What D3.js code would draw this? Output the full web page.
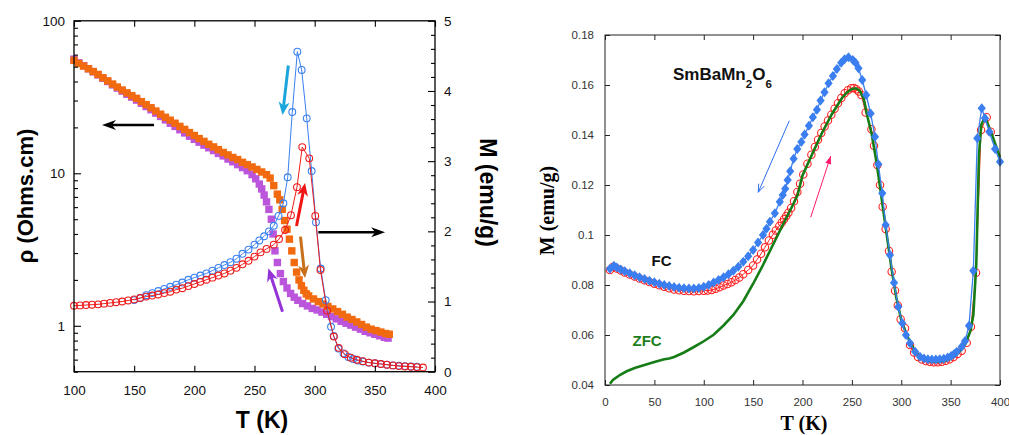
<!DOCTYPE html>
<html><head><meta charset="utf-8">
<script src="https://cdn.jsdelivr.net/npm/d3@7"></script>
<style>body{margin:0;background:#fff}svg{display:block}</style>
</head><body>
<svg id="c" width="1009" height="435"></svg>
<script>
// ---------------- LEFT PANEL DATA ----------------
const leftXTicks = [100,150,200,250,300,350,400];
const rhoMajorTicks = [1,10,100];
const mLeftMajorTicks = [0,1,2,3,4,5];

const orangeT = [100,104,108,112,116,120,124,128,132,136,140,144,148,152,156,160,164,168,172,176,180,184,188,192,196,200,204,208,212,216,220,224,228,232,236,240,244,248,252,256,260,
  263,266,269,271,273,275,277,279,281,283,285,287,289,291,293,
  295,299,303,307,311,315,319,323,327,331,335,339,343,347,351,355,359,362];
const orangeRho = [55,52.5,50.5,48.5,46.5,44.5,42.3,40.4,38.5,36.8,35.2,33.7,32.3,31.0,29.5,28.2,26.9,25.6,24.4,23.3,22.3,21.3,20.3,19.4,18.5,17.7,16.9,16.2,15.5,14.9,14.3,13.7,13.2,12.7,12.3,11.8,11.4,11.0,10.6,10.2,9.8,
  9.3,8.3,7.3,6.7,5.8,4.9,4.3,3.7,3.1,2.6,2.25,2.0,1.83,1.71,1.62,
  1.57,1.50,1.44,1.39,1.34,1.29,1.24,1.19,1.14,1.10,1.06,1.02,0.98,0.95,0.93,0.91,0.89,0.88];

const purpleT = [100,104,108,112,116,120,124,128,132,136,140,144,148,152,156,160,164,168,172,176,180,184,188,192,196,200,204,208,212,216,220,224,228,232,236,240,244,
  248,251,254,256,258,260,262,264,265.5,267,269,271.5,274,277,280,283,286,290,294,298,302,306,310,314,318,322,326,330,334,338,342,346,350,354,358,361];
const purpleRho = [56,53,50.8,48.5,46.3,44.2,42,40,38,36.2,34.6,33,31.6,30.2,28.8,27.4,26.1,24.8,23.6,22.4,21.3,20.3,19.3,18.4,17.5,16.7,16.0,15.3,14.7,14.1,13.5,13.0,12.4,11.9,11.4,10.9,10.4,
  9.8,9.2,8.5,7.9,7.2,6.5,5.8,5.0,4.0,3.1,2.6,2.2,1.95,1.77,1.63,1.54,1.47,1.40,1.35,1.30,1.27,1.23,1.19,1.15,1.11,1.07,1.04,1.01,0.98,0.95,0.92,0.90,0.88,0.86,0.84,0.83];

const blueLT = [150,155,160,165,170,175,180,185,190,195,200,205,210,215,220,225,230,235,240,245,250,
  254,258,262,266,270,274,277.6,281.4,285.6,289.2,293.4,297.5,301.1,305,309.2,313.6,315.8,319.7,324,328,332,336,340,345,350,355,360,365,370,375,380,385];
const blueLM = [1.02,1.05,1.09,1.12,1.15,1.18,1.21,1.24,1.27,1.31,1.34,1.37,1.40,1.44,1.48,1.52,1.56,1.61,1.68,1.74,1.81,
  1.87,1.93,2.00,2.08,2.22,2.40,2.77,3.70,4.56,4.30,3.61,2.86,2.13,1.47,1.02,0.64,0.51,0.33,0.26,0.21,0.18,0.16,0.145,0.13,0.12,0.11,0.10,0.09,0.085,0.08,0.075,0.07];

const redLT = [100,105,110,115,120,125,130,135,140,145,150,155,160,165,170,175,180,185,190,195,200,205,210,215,220,225,230,235,240,245,250,255,260,
  266,270.4,275.4,280.3,285.3,289.7,295.5,300.5,304.8,310.3,316,320,325,330,335,340,345,350,355,360,365,370,375,380,385,390];
const redLM = [0.94,0.945,0.95,0.955,0.96,0.97,0.98,0.99,1.0,1.015,1.03,1.05,1.07,1.085,1.10,1.12,1.14,1.17,1.19,1.22,1.25,1.28,1.31,1.34,1.37,1.40,1.44,1.48,1.53,1.58,1.64,1.70,1.75,
  1.81,1.89,2.02,2.23,2.63,3.20,3.04,2.22,1.45,0.87,0.50,0.34,0.25,0.20,0.17,0.15,0.13,0.12,0.11,0.10,0.09,0.08,0.075,0.07,0.065,0.06];

// arrows (data units: T, M)
const leftArrows = [
  {from:[166.5,3.515], to:[123.3,3.515], color:"#000000"},
  {from:[303.0,1.986], to:[358.5,1.986], color:"#000000"},
  {from:[278.1,4.363], to:[273.3,3.659], color:"#1aa6dc"},
  {from:[284.9,2.076], to:[292.0,2.689], color:"#f01414"},
  {from:[288.2,1.924], to:[292.0,1.335], color:"#c8701c"},
  {from:[273.3,0.855], to:[261.5,1.473], color:"#9433d6"}
];

// ---------------- RIGHT PANEL DATA ----------------
const rightXTicks = [0,50,100,150,200,250,300,350,400];
const rightYTicks = [0.04,0.06,0.08,0.1,0.12,0.14,0.16,0.18];

const fcT = [5,9,12,16,20,25,30,35,40,45,50,55,60,65,70,75,80,85,90,95,100,105,110,115,120,125,130,135,140,145,150,155,160,163.5,167,172,177,180,182.5,185,187.5,191,194.7,198.8,202.1,206.5,210.5,214.6,218.3,222.3,226.4,230.8,234.8,239.2,242.6,246.6,251,253.7,256.7,260.5,264.5,269,273.4,276.8,280.8,284.2,288.6,292.7,297,301.1,304.8,308.9,314,319,323,327,331,335,339,343,347,350.5,353.5,356.2,361.2,364.6,368.6,373,377,381.5,384.8,389.2,395,400];
const fcM = [0.0865,0.0877,0.0870,0.0862,0.0855,0.0847,0.0839,0.0831,0.0824,0.0817,0.0811,0.0805,0.0800,0.0796,0.0792,0.0789,0.0787,0.0786,0.0786,0.0788,0.0793,0.0800,0.0810,0.0820,0.0831,0.0843,0.0857,0.0873,0.0893,0.0915,0.0940,0.0970,0.1000,0.1025,0.1053,0.1087,0.1133,0.1160,0.1185,0.1220,0.1255,0.1305,0.1344,0.1372,0.1402,0.1437,0.1471,0.1501,0.1538,0.1571,0.1607,0.1636,0.1664,0.1689,0.1703,0.1711,0.1700,0.1689,0.1667,0.1620,0.1560,0.1486,0.1393,0.1283,0.1167,0.1040,0.0920,0.0809,0.0713,0.0647,0.0600,0.0567,0.0533,0.0513,0.0506,0.0503,0.0502,0.0502,0.0503,0.0505,0.0510,0.0516,0.0524,0.0533,0.0553,0.0576,0.0637,0.0857,0.1387,0.1507,0.1467,0.1413,0.1344,0.1293];

const fcwT = [5,8,12,16,20,25,30,35,40,45,50,55,60,65,70,75,80,85,90,95,100,104,108,112,116,120,124,128,132,136,140,145,150,154,158,162,166,170,173,176.5,179,181.3,183.5,185.7,188.5,191.4,194.8,197.5,200.8,205,209,212.5,215.7,219,222.4,225.8,229.2,232.5,235.9,239.3,242.7,246,249.4,252,254.5,257,259.6,263.9,269.8,272.4,275.8,278.5,281.2,284.2,287.6,290.3,293.7,296.5,299.4,303.8,308.9,313,317,321,325,329,333,337,341,345,349,353,357,361.2,366.3,370.6,375.7,380.8,386.5,390.6];
const fcwM = [0.0860,0.0872,0.0866,0.0858,0.0850,0.0842,0.0834,0.0826,0.0819,0.0812,0.0805,0.0799,0.0793,0.0787,0.0782,0.0779,0.0777,0.0776,0.0775,0.0776,0.0777,0.0778,0.0780,0.0785,0.0791,0.0798,0.0804,0.0811,0.0820,0.0830,0.0843,0.0860,0.0878,0.0902,0.0925,0.0951,0.0978,0.1001,0.1018,0.1036,0.1050,0.1063,0.1076,0.1089,0.1108,0.1135,0.1172,0.1205,0.1242,0.1285,0.1321,0.1352,0.1381,0.1408,0.1434,0.1458,0.1481,0.1505,0.1527,0.1548,0.1567,0.1579,0.1587,0.1588,0.1583,0.1574,0.1560,0.1490,0.1423,0.1357,0.1280,0.1200,0.1113,0.1024,0.0936,0.0853,0.0777,0.0718,0.0663,0.0627,0.0560,0.0530,0.0512,0.0502,0.0496,0.0493,0.0491,0.0491,0.0493,0.0497,0.0503,0.0512,0.0524,0.0537,0.0569,0.0633,0.0849,0.1420,0.1471,0.1413];

const zfcT = [5,8,15,22,30,40,50,60,65,70,80,90,100,110,120,130,140,150,160,170,180,186,190,195,200,210,220,230,240,245,250,254,258,262,266,270,275,280,285,290,295,300,305,310,315,320,325,330,335,340,345,350,355,360,365,370,373,376,378.7,381,384.7,388,392,396,400];
const zfcM = [0.0405,0.0420,0.0440,0.0455,0.0468,0.0480,0.0492,0.0503,0.0506,0.0512,0.0530,0.0552,0.0575,0.0601,0.0638,0.0680,0.0735,0.0805,0.0880,0.0960,0.1040,0.1087,0.1118,0.1160,0.1238,0.1325,0.1410,0.1485,0.1548,0.1570,0.1584,0.1587,0.1577,0.1545,0.1470,0.1405,0.1290,0.1150,0.1010,0.0870,0.0750,0.0660,0.0605,0.0562,0.0530,0.0511,0.0500,0.0495,0.0493,0.0494,0.0498,0.0505,0.0518,0.0538,0.0565,0.0615,0.0680,0.0885,0.1320,0.1440,0.1473,0.1440,0.1400,0.1355,0.1310];

const rightArrows = [
  {from:[186.6,0.1457], to:[155.2,0.1171], color:"#2f6ff0", filled:false},
  {from:[208.3,0.1071], to:[228.6,0.1316], color:"#ff1a6e", filled:true}
];

// ---------------- DRAWING ----------------
const svg = d3.select("#c");
const SANS = "'Liberation Sans', Arial, sans-serif";
const SERIF = "'Liberation Serif', 'Times New Roman', serif";
const zip = (a,b) => a.map((v,i) => [v,b[i]]).filter(d => d[1] !== undefined);

function heavyArrow(g, p1, p2, color, lw, hl, hw) {
  const dx=p2[0]-p1[0], dy=p2[1]-p1[1], len=Math.hypot(dx,dy), ux=dx/len, uy=dy/len, nx=-uy, ny=ux;
  const bx=p2[0]-ux*hl, by=p2[1]-uy*hl;
  const notchX=p2[0]-ux*hl*0.7, notchY=p2[1]-uy*hl*0.7;
  g.append("line").attr("x1",p1[0]).attr("y1",p1[1]).attr("x2",notchX).attr("y2",notchY)
    .attr("stroke",color).attr("stroke-width",lw);
  g.append("path").attr("d",`M${p2[0]},${p2[1]}L${bx+nx*hw},${by+ny*hw}L${notchX},${notchY}L${bx-nx*hw},${by-ny*hw}Z`)
    .attr("fill",color);
}

// LEFT
const xL = d3.scaleLinear([100,400],[74,435]);
const yRho = d3.scaleLog([0.5,100],[371.7,20.8]);
const yML = d3.scaleLinear([0,5],[371.7,20.8]);
const gL = svg.append("g");
const SQ = 7.4;

gL.append("g").selectAll("rect").data(zip(purpleT,purpleRho)).join("rect")
  .attr("x",d=>xL(d[0])-SQ/2).attr("y",d=>yRho(d[1])-SQ/2).attr("width",SQ).attr("height",SQ).attr("fill","#bb55dc");
gL.append("g").selectAll("rect").data(zip(orangeT,orangeRho)).join("rect")
  .attr("x",d=>xL(d[0])-SQ/2).attr("y",d=>yRho(d[1])-SQ/2).attr("width",SQ).attr("height",SQ).attr("fill","#f26a0f");

const lineL = d3.line().x(d=>xL(d[0])).y(d=>yML(d[1]));
const blueL = zip(blueLT,blueLM), redL = zip(redLT,redLM);
gL.append("path").attr("d",lineL(blueL)).attr("fill","none").attr("stroke","#3a80f0").attr("stroke-width",1);
gL.append("g").selectAll("circle").data(blueL).join("circle")
  .attr("cx",d=>xL(d[0])).attr("cy",d=>yML(d[1])).attr("r",3.4).attr("fill","none").attr("stroke","#3a80f0").attr("stroke-width",1.1);
gL.append("path").attr("d",lineL(redL)).attr("fill","none").attr("stroke","#ee1c1c").attr("stroke-width",1);
gL.append("g").selectAll("circle").data(redL).join("circle")
  .attr("cx",d=>xL(d[0])).attr("cy",d=>yML(d[1])).attr("r",3.4).attr("fill","none").attr("stroke","#ee1c1c").attr("stroke-width",1.1);

leftArrows.forEach(a => {
  const black = a.color === "#000000";
  heavyArrow(gL, [xL(a.from[0]), yML(a.from[1])], [xL(a.to[0]), yML(a.to[1])], a.color, black?2.4:3, black?14:13, black?5:5.5);
});

gL.append("rect").attr("x",74).attr("y",20.8).attr("width",361).attr("height",350.9)
  .attr("fill","none").attr("stroke","#000").attr("stroke-width",1.3);

const axB = gL.append("g").attr("transform","translate(0,371.7)")
  .call(d3.axisBottom(xL).tickValues(leftXTicks).tickSize(-6).tickPadding(4).tickFormat(d3.format("d")));
const axT = gL.append("g").attr("transform","translate(0,20.8)")
  .call(d3.axisTop(xL).tickValues(leftXTicks).tickSize(-6).tickFormat(""));
const rhoTicks = [];
[0.1,1,10].forEach(dec => { for (let k=1;k<=9;k++){ const v=+(dec*k).toPrecision(3); if (v>=0.5 && v<=100) rhoTicks.push(v);} });
rhoTicks.push(100);
const axLft = gL.append("g").attr("transform","translate(74,0)")
  .call(d3.axisLeft(yRho).tickValues(rhoTicks).tickSize(-7).tickPadding(9)
    .tickFormat(d => rhoMajorTicks.includes(d) ? String(d) : ""));
axLft.selectAll(".tick line").attr("x2", d => rhoMajorTicks.includes(d) ? 7 : 4);
const mTicks = d3.range(0, 5.001, 0.2).map(v => +v.toFixed(1));
const axRgt = gL.append("g").attr("transform","translate(435,0)")
  .call(d3.axisRight(yML).tickValues(mTicks).tickSize(-7).tickPadding(9)
    .tickFormat(d => mLeftMajorTicks.includes(d) ? String(d) : ""));
axRgt.selectAll(".tick line").attr("x2", d => mLeftMajorTicks.includes(d) ? -7 : -4);
[axB,axT,axLft,axRgt].forEach(a => {
  a.select(".domain").remove();
  a.selectAll(".tick line").attr("stroke","#000").attr("stroke-width",1.1);
  a.selectAll("text").attr("font-family",SANS).attr("font-size",13.5).attr("fill","#111");
});
axB.selectAll("text").attr("y",14).attr("dy","0.71em");

gL.append("text").attr("transform","translate(33,196) rotate(-90)").attr("text-anchor","middle")
  .attr("font-family",SANS).attr("font-weight","bold").attr("font-size",22).text("ρ (Ohms.cm)");
gL.append("text").attr("transform","translate(480,192.5) rotate(90)").attr("text-anchor","middle")
  .attr("font-family",SANS).attr("font-weight","bold").attr("font-size",23).text("M (emu/g)");
gL.append("text").attr("x",262).attr("y",427.5).attr("text-anchor","middle")
  .attr("font-family",SANS).attr("font-weight","bold").attr("font-size",23).text("T (K)");

// RIGHT
const xR = d3.scaleLinear([0,400],[605,1000]);
const yR = d3.scaleLinear([0.04,0.18],[385,35]);
const gR = svg.append("g");
const lineR = d3.line().x(d=>xR(d[0])).y(d=>yR(d[1]));
const fcw = zip(fcwT,fcwM), fc = zip(fcT,fcM), zfc = zip(zfcT,zfcM);

gR.append("path").attr("d",lineR(fcw)).attr("fill","none").attr("stroke","#ff2020").attr("stroke-width",1);
gR.append("g").selectAll("circle").data(fcw).join("circle")
  .attr("cx",d=>xR(d[0])).attr("cy",d=>yR(d[1])).attr("r",3.7).attr("fill","none").attr("stroke","#ff2020").attr("stroke-width",1.1);
gR.append("path").attr("d",lineR(zfc)).attr("fill","none").attr("stroke","#167d16").attr("stroke-width",2.6);
gR.append("path").attr("d",lineR(fc)).attr("fill","none").attr("stroke","#3a7ef0").attr("stroke-width",1.3);
gR.append("g").selectAll("path").data(fc).join("path")
  .attr("transform",d=>`translate(${xR(d[0])},${yR(d[1])})`)
  .attr("d","M0,-4.9L4.1,0L0,4.9L-4.1,0Z").attr("fill","#3a7ef0");

rightArrows.forEach(a => {
  const p1=[xR(a.from[0]),yR(a.from[1])], p2=[xR(a.to[0]),yR(a.to[1])];
  const dx=p2[0]-p1[0], dy=p2[1]-p1[1], len=Math.hypot(dx,dy), ux=dx/len, uy=dy/len, nx=-uy, ny=ux;
  gR.append("line").attr("x1",p1[0]).attr("y1",p1[1]).attr("x2",p2[0]).attr("y2",p2[1]).attr("stroke",a.color).attr("stroke-width",1);
  const hl=8, hw=3;
  const bx=p2[0]-ux*hl, by=p2[1]-uy*hl;
  if (a.filled) {
    gR.append("path").attr("d",`M${p2[0]},${p2[1]}L${bx+nx*hw},${by+ny*hw}L${bx-nx*hw},${by-ny*hw}Z`).attr("fill",a.color);
  } else {
    gR.append("path").attr("d",`M${bx+nx*hw},${by+ny*hw}L${p2[0]},${p2[1]}L${bx-nx*hw},${by-ny*hw}`)
      .attr("fill","none").attr("stroke",a.color).attr("stroke-width",1);
  }
});

gR.append("rect").attr("x",605).attr("y",35).attr("width",395).attr("height",350)
  .attr("fill","none").attr("stroke","#222").attr("stroke-width",1);
const rB = gR.append("g").attr("transform","translate(0,385)")
  .call(d3.axisBottom(xR).tickValues(rightXTicks).tickSize(-5).tickPadding(4).tickFormat(d3.format("d")));
const rT = gR.append("g").attr("transform","translate(0,35)")
  .call(d3.axisTop(xR).tickValues(rightXTicks).tickSize(-5).tickFormat(""));
const rL = gR.append("g").attr("transform","translate(605,0)")
  .call(d3.axisLeft(yR).tickValues(rightYTicks).tickSize(-5).tickPadding(11).tickFormat(d => String(+d.toFixed(2))));
const rRt = gR.append("g").attr("transform","translate(1000,0)")
  .call(d3.axisRight(yR).tickValues(rightYTicks).tickSize(-5).tickFormat(""));
[rB,rT,rL,rRt].forEach(a => {
  a.select(".domain").remove();
  a.selectAll(".tick line").attr("stroke","#222").attr("stroke-width",1);
  a.selectAll("text").attr("font-family",SANS).attr("font-size",11.5).attr("fill","#333");
});
rB.selectAll("text").attr("y",13).attr("dy","0.71em");

gR.append("text").attr("transform","translate(554,210.5) rotate(-90)").attr("text-anchor","middle")
  .attr("font-family",SERIF).attr("font-weight","bold").attr("font-size",20).text("M (emu/g)");
gR.append("text").attr("x",804).attr("y",430).attr("text-anchor","middle")
  .attr("font-family",SERIF).attr("font-weight","bold").attr("font-size",20).text("T (K)");

const title = gR.append("text").attr("x",673).attr("y",80).attr("font-family",SANS).attr("font-weight","bold").attr("font-size",17).attr("fill","#111");
title.append("tspan").text("SmBaMn");
title.append("tspan").attr("font-size",11.5).attr("dy",8).text("2");
title.append("tspan").attr("dy",-8).text("O");
title.append("tspan").attr("font-size",11.5).attr("dy",8).text("6");
gR.append("text").attr("x",651.5).attr("y",265.7).attr("font-family",SANS).attr("font-weight","bold").attr("font-size",15).attr("fill","#111").text("FC");
gR.append("text").attr("x",632.5).attr("y",345.7).attr("font-family",SANS).attr("font-weight","bold").attr("font-size",15).attr("fill","#1d7d1d").text("ZFC");
</script>
</body></html>
